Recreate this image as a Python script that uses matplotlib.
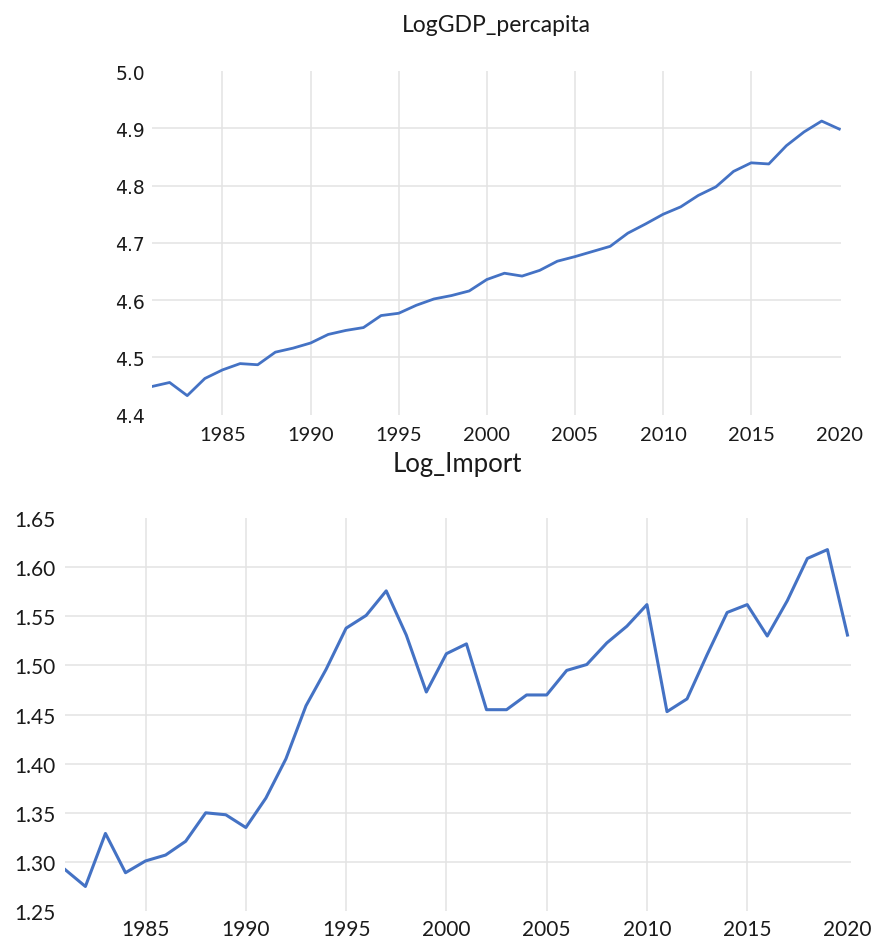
import numpy as np
import matplotlib.pyplot as plt

plt.rcParams['font.family'] = ['Lato', 'DejaVu Sans']

# Dữ liệu
years = list(range(1981, 2021))
log_gdp = [4.449, 4.456, 4.433, 4.463, 4.478, 4.489, 4.487, 4.509, 4.516, 4.525,
           4.540, 4.547, 4.552, 4.573, 4.577, 4.591, 4.602, 4.608, 4.616, 4.636,
           4.647, 4.642, 4.652, 4.668, 4.676, 4.685, 4.694, 4.717, 4.733, 4.750,
           4.763, 4.783, 4.798, 4.825, 4.840, 4.838, 4.870, 4.894, 4.913, 4.899]
log_import = [1.292, 1.275, 1.329, 1.289, 1.301, 1.307, 1.321, 1.350, 1.348, 1.335,
              1.365, 1.405, 1.459, 1.496, 1.538, 1.551, 1.576, 1.531, 1.473, 1.512,
              1.522, 1.455, 1.455, 1.470, 1.470, 1.495, 1.501, 1.523, 1.540, 1.562,
              1.453, 1.466, 1.511, 1.554, 1.562, 1.530, 1.566, 1.609, 1.618, 1.531]
xticks = [1985, 1990, 1995, 2000, 2005, 2010, 2015, 2020]
gdp_yticks = [4.4, 4.5, 4.6, 4.7, 4.8, 4.9, 5.0]
imp_yticks = [1.25, 1.30, 1.35, 1.40, 1.45, 1.50, 1.55, 1.60, 1.65]

line_color = '#4472C4'
grid_color = '#e3e3e3'
text_color = '#1a1a1a'


def style_axes(ax, yticks, yfmt, xfs, yfs, xpad, ypad, yfamily):
    ax.set_xticks(xticks)
    ax.set_yticks(yticks)
    ax.set_yticklabels([yfmt.format(v) for v in yticks], family=yfamily)
    ax.tick_params(length=0, labelsize=xfs, colors=text_color, pad=xpad, axis='x')
    ax.tick_params(length=0, labelsize=yfs, colors=text_color, pad=ypad, axis='y')
    for s in ax.spines.values():
        s.set_visible(False)
    ax.grid(True, color=grid_color, linewidth=1.1)
    ax.set_axisbelow(True)
    yg = ax.yaxis.get_gridlines()
    yg[0].set_visible(False)
    yg[-1].set_visible(False)
    ax.xaxis.get_gridlines()[-1].set_visible(False)


fig = plt.figure(figsize=(8.77, 9.45), dpi=100)

# Biểu đồ trên: LogGDP_percapita
ax1 = fig.add_axes([0.1733, 0.5603, 0.7857, 0.3632])
ax1.plot(years, log_gdp, color=line_color, linewidth=2)
ax1.set_xlim(1981, 2020.1)
ax1.set_ylim(4.4, 5.0)
style_axes(ax1, gdp_yticks, '{:.1f}', 14.5, 13.5, 8, 5, ['DejaVu Sans'])
fig.text(0.566, 0.973, 'LogGDP_percapita', ha='center', va='center',
         fontsize=16.5, color=text_color)

# Biểu đồ dưới: Log_Import
ax2 = fig.add_axes([0.0745, 0.0349, 0.8955, 0.4157])
ax2.plot(years, log_import, color=line_color, linewidth=2.2)
ax2.set_xlim(1981, 2020.16)
ax2.set_ylim(1.25, 1.65)
style_axes(ax2, imp_yticks, '{:.2f}', 15, 15, 6, 7, ['Lato', 'DejaVu Sans'])
fig.text(0.522, 0.508, 'Log_Import', ha='center', va='center',
         fontsize=18.5, color=text_color)

plt.savefig('out.png', dpi=100)
